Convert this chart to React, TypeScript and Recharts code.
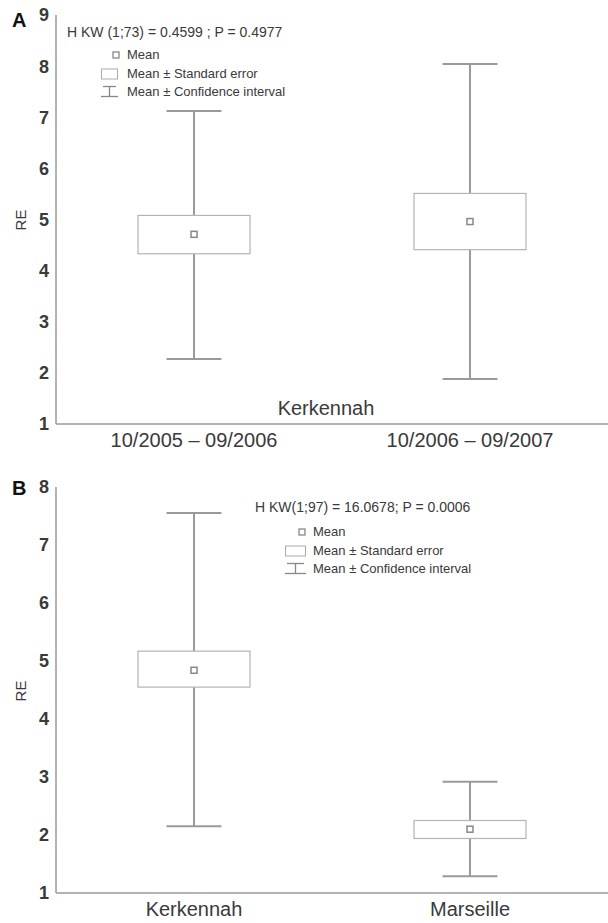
import React from 'react';
import { ComposedChart, Bar, XAxis, YAxis } from 'recharts';

// Panel A
const catsA = ['10/2005 – 09/2006', '10/2006 – 09/2007'];
const meanA = [4.71, 4.96];
const seLowA = [4.33, 4.41];
const seHighA = [5.08, 5.51];
const ciLowA = [2.27, 1.88];
const ciHighA = [7.12, 8.04];
const ticksA = [1, 2, 3, 4, 5, 6, 7, 8, 9];

// Panel B
const catsB = ['Kerkennah', 'Marseille'];
const meanB = [4.84, 2.1];
const seLowB = [4.55, 1.94];
const seHighB = [5.17, 2.25];
const ciLowB = [2.15, 1.29];
const ciHighB = [7.55, 2.92];
const ticksB = [1, 2, 3, 4, 5, 6, 7, 8];

const build = (cats: string[], mean: number[], seLo: number[], seHi: number[], ciLo: number[], ciHi: number[]) =>
  cats.map((c, i) => ({ cat: c, mean: mean[i], se: [seLo[i], seHi[i]], ci: [ciLo[i], ciHi[i]] }));

const dataA = build(catsA, meanA, seLowA, seHighA, ciLowA, ciHighA);
const dataB = build(catsB, meanB, seLowB, seHighB, ciLowB, ciHighB);

const FONT = '"Liberation Sans", Arial, sans-serif';
const AXIS = '#9a9a9a';
const TEXT = '#3a3a3a';

const BoxShape = (props: any) => {
  const { x, y, width, height, payload } = props;
  const ci = payload.ci as number[];
  const se = payload.se as number[];
  const k = height / (ci[1] - ci[0]);
  const py = (v: number) => y + (ci[1] - v) * k;
  const cx = x + width / 2;
  const capHalf = width * 0.245;
  return (
    <g>
      <line x1={cx} x2={cx} y1={py(ci[1])} y2={py(ci[0])} stroke={AXIS} strokeWidth={2} />
      <line x1={cx - capHalf} x2={cx + capHalf} y1={py(ci[1])} y2={py(ci[1])} stroke={AXIS} strokeWidth={2} />
      <line x1={cx - capHalf} x2={cx + capHalf} y1={py(ci[0])} y2={py(ci[0])} stroke={AXIS} strokeWidth={2} />
      <rect x={x} y={py(se[1])} width={width} height={py(se[0]) - py(se[1])} fill="#fff" stroke="#b4b4b4" strokeWidth={1.2} />
      <rect x={cx - 3} y={py(payload.mean) - 3} width={6} height={6} fill="#fff" stroke="#888" strokeWidth={1.5} />
    </g>
  );
};

const MeanIcon = () => (
  <svg width={20} height={10} style={{ display: 'block' }}>
    <rect x={7} y={2} width={6} height={6} fill="#fff" stroke="#888" strokeWidth={1.3} />
  </svg>
);
const SEIcon = ({ w }: { w: number }) => (
  <svg width={w} height={12} style={{ display: 'block' }}>
    <rect x={0.5} y={1} width={w - 1} height={10} fill="#fff" stroke="#aaa" strokeWidth={1} />
  </svg>
);
const CIIcon = ({ w }: { w: number }) => (
  <svg width={w} height={13} style={{ display: 'block' }}>
    <line x1={2} x2={w - 2} y1={1.5} y2={1.5} stroke="#888" strokeWidth={1.3} />
    <line x1={0} x2={w} y1={11.5} y2={11.5} stroke="#888" strokeWidth={1.3} />
    <line x1={w / 2} x2={w / 2} y1={1.5} y2={11.5} stroke="#888" strokeWidth={1.3} />
  </svg>
);

const abs = (left: number, top: number, extra: React.CSSProperties = {}): React.CSSProperties => ({
  position: 'absolute',
  left,
  top,
  fontFamily: FONT,
  color: TEXT,
  whiteSpace: 'nowrap',
  lineHeight: 1,
  ...extra,
});

const Legend = ({ x, y, statX, statY, stat, iconW, textX, dy }: any) => (
  <>
    <div style={abs(statX, statY - 8, { fontSize: 14 })}>{stat}</div>
    <div style={abs(x, y - 5)}><MeanIcon /></div>
    <div style={abs(textX, y - 7, { fontSize: 13 })}>Mean</div>
    <div style={abs(x - 7 + (20 - iconW) / 2 + (iconW - 20) / 2 - (iconW - 20) / 2, y + dy - 6)}><SEIcon w={iconW} /></div>
    <div style={abs(textX, y + dy - 7, { fontSize: 13 })}>Mean ± Standard error</div>
    <div style={abs(x - 7 + (20 - iconW) / 2 + (iconW - 20) / 2 - (iconW - 20) / 2, y + 2 * dy - 7)}><CIIcon w={iconW} /></div>
    <div style={abs(textX, y + 2 * dy - 7, { fontSize: 13 })}>Mean ± Confidence interval</div>
  </>
);

const Panel = ({ data, ticks, domain, height, margin }: any) => (
  <ComposedChart width={608} height={height} data={data} margin={margin}>
    <XAxis
      dataKey="cat"
      axisLine={{ stroke: AXIS, strokeWidth: 1.5 }}
      tickLine={false}
      tickSize={0}
      tickMargin={9}
      height={30}
      tick={{ fontSize: 20, fill: TEXT, fontFamily: FONT }}
      interval={0}
    />
    <XAxis
      xAxisId="top"
      dataKey="cat"
      orientation="top"
      axisLine={{ stroke: AXIS, strokeWidth: 1.5 }}
      tick={false}
      tickLine={false}
      height={0}
    />
    <YAxis
      domain={domain}
      ticks={ticks}
      type="number"
      allowDataOverflow
      width={40}
      axisLine={{ stroke: AXIS, strokeWidth: 1.5 }}
      tickLine={false}
      tickSize={0}
      tickMargin={7}
      tick={{ fontSize: 18, fill: TEXT, fontFamily: FONT, fontWeight: 'bold' }}
    />
    <Bar dataKey="ci" barSize={112} isAnimationActive={false} shape={BoxShape} fill="#fff" />
  </ComposedChart>
);

export default function App() {
  return (
    <div style={{ position: 'absolute', left: 0, top: 0, width: 608, height: 923, background: '#fff', overflow: 'hidden' }}>
      <div style={{ position: 'absolute', left: 0, top: 0 }}>
        <Panel data={dataA} ticks={ticksA} domain={[1, 9]} height={470} margin={{ top: 15, right: 0, bottom: 16, left: 16 }} />
      </div>
      <div style={{ position: 'absolute', left: 0, top: 470 }}>
        <Panel data={dataB} ticks={ticksB} domain={[1, 8]} height={453} margin={{ top: 17, right: 0, bottom: 0, left: 16 }} />
      </div>

      <div style={abs(12, 10, { fontSize: 20, fontWeight: 'bold', color: '#111' })}>A</div>
      <div style={abs(12, 478, { fontSize: 20, fontWeight: 'bold', color: '#111' })}>B</div>

      <div style={abs(20, 220, { fontSize: 15, transform: 'translate(-50%, -50%) rotate(-90deg)' })}>RE</div>
      <div style={abs(20, 691, { fontSize: 15, transform: 'translate(-50%, -50%) rotate(-90deg)' })}>RE</div>

      <div style={abs(326, 408, { fontSize: 20, transform: 'translate(-50%, -50%)' })}>Kerkennah</div>

      <Legend x={106} y={55} statX={67} statY={33} stat="H KW (1;73) = 0.4599 ; P = 0.4977" iconW={17} textX={127} dy={18.5} />
      <Legend x={292} y={532} statX={255} statY={508} stat="H KW(1;97) = 16.0678; P = 0.0006" iconW={21} textX={313} dy={18.5} />
    </div>
  );
}
